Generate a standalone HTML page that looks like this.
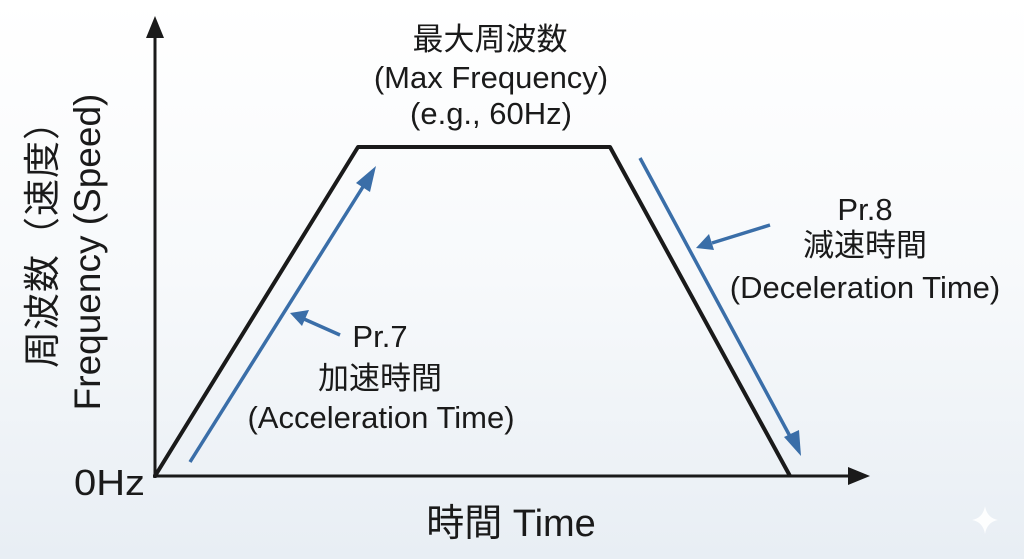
<!DOCTYPE html>
<html><head><meta charset="utf-8"><style>
body{margin:0;width:1024px;height:559px;overflow:hidden;background:linear-gradient(#ffffff 0%,#f7f9fb 50%,#e8eef4 100%);}
svg{display:block}
text{font-family:"Liberation Sans","Noto Sans CJK JP",sans-serif;fill:#1a1a1a}
</style></head><body>
<svg width="1024" height="559" viewBox="0 0 1024 559">
<!-- axes -->
<line x1="155" y1="478" x2="155" y2="36" stroke="#1a1a1a" stroke-width="3"/>
<path d="M146,38 L155,16 L164,38 z" fill="#1a1a1a"/>
<line x1="153" y1="476" x2="850" y2="476" stroke="#1a1a1a" stroke-width="3"/>
<path d="M848,467 L870,476 L848,485 z" fill="#1a1a1a"/>
<!-- trapezoid -->
<polyline points="155,476 358,147 610,147 790,476" fill="none" stroke="#1a1a1a" stroke-width="4" stroke-linejoin="round"/>
<!-- blue arrows -->
<g stroke="#3a6ea8" stroke-width="3.5" fill="none">
<line x1="190" y1="462" x2="366" y2="182"/>
<line x1="640" y1="158" x2="792" y2="440"/>
<line x1="340" y1="335" x2="304" y2="319"/>
<line x1="770" y1="225" x2="712" y2="243"/>
</g>
<g fill="#3a6ea8">
<path d="M376,166 L370,192 L356,183 z"/>
<path d="M801,456 L784,437 L799,430 z"/>
<path d="M290,313 L309,310 L302,326 z"/>
<path d="M696,248 L709,234 L714,250 z"/>
</g>
<!-- labels -->
<g font-size="31" text-anchor="middle">
<text x="490" y="50">最大周波数</text>
<text x="491" y="88">(Max Frequency)</text>
<text x="491" y="124">(e.g., 60Hz)</text>
<text x="380" y="347">Pr.7</text>
<text x="380" y="389">加速時間</text>
<text x="381" y="428">(Acceleration Time)</text>
<text x="865" y="220">Pr.8</text>
<text x="865" y="256">減速時間</text>
<text x="865" y="298">(Deceleration Time)</text>
</g>
<text x="74" y="495" font-size="36" textLength="71" lengthAdjust="spacingAndGlyphs">0Hz</text>
<text x="511" y="536" font-size="38" text-anchor="middle">時間 Time</text>
<text transform="translate(55,235) rotate(-90)" font-size="37" text-anchor="middle" letter-spacing="1">周波数（速度）</text>
<text transform="translate(100,252) rotate(-90)" font-size="37" text-anchor="middle">Frequency (Speed)</text>
<path d="M985,506 Q987,518 998,520 Q987,522 985,534 Q983,522 972,520 Q983,518 985,506 z" fill="#ffffff" opacity="0.9"/>
</svg>
</body></html>
